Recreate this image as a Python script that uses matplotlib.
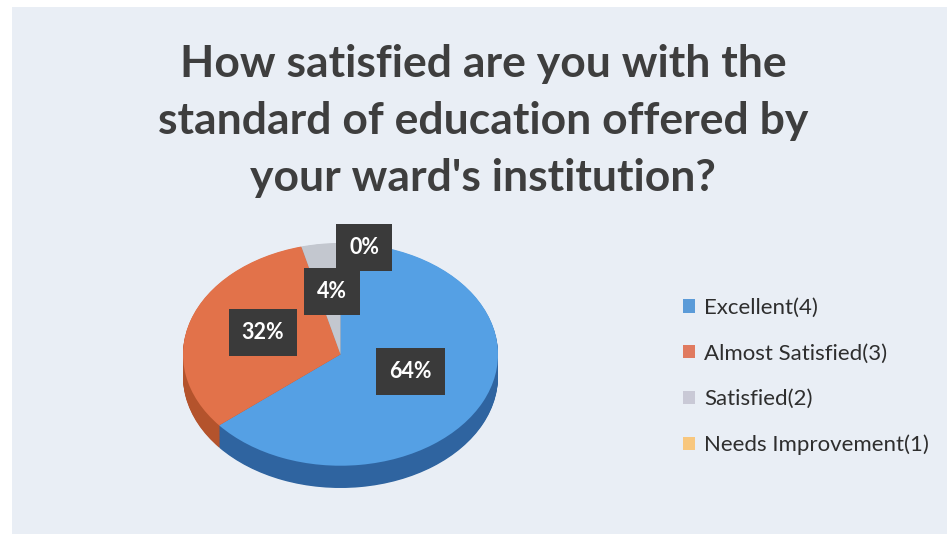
import matplotlib
matplotlib.use("Agg")
import matplotlib.pyplot as plt
from matplotlib.patches import Patch, Rectangle
import numpy as np

# data
categories = ["Excellent(4)", "Almost Satisfied(3)", "Satisfied(2)", "Needs Improvement(1)"]
values = [64, 32, 4, 0]
title = "How satisfied are you with the\nstandard of education offered by\nyour ward's institution?"

top_colors = ["#55a0e4", "#e2724a", "#c3c7cf", "#f6c47c"]
side_colors = ["#2f64a0", "#b4532c", "#8e929a", "#c9974f"]
legend_colors = ["#5b9bd8", "#e07a5f", "#c9c9d6", "#f8c77e"]

W, H = 947, 534
fig = plt.figure(figsize=(W / 100, H / 100), dpi=100, facecolor="white")

# slide background
fig.patches.append(Rectangle((12 / W, 0), 1, 1 - 7 / H, transform=fig.transFigure,
                             facecolor="#e9eef5", edgecolor="none", zorder=-10))

fig.text(483 / W, 1 - 121 / H, title, ha="center", va="center", fontsize=32,
         fontweight="bold", family="Lato", color="#3e3e3e", linespacing=1.5)

# pie axes: top ellipse 183..498 x, 243..466 y, depth ~22px
x0, x1, y0, y1 = 183, 498, 243, 488
ax = fig.add_axes([x0 / W, 1 - y1 / H, (x1 - x0) / W, (y1 - y0) / H])
depth = 0.2
for d in np.linspace(depth, 0.005, 30):
    ax.pie(values, colors=side_colors, startangle=90, counterclock=False,
           center=(0, -d), radius=1, wedgeprops=dict(linewidth=0))
wedges, _ = ax.pie(values, colors=top_colors, startangle=90, counterclock=False,
                   radius=1, wedgeprops=dict(linewidth=0))
ax.set_aspect("auto")
ax.set_xlim(-1, 1)
ax.set_ylim(-1 - depth, 1)
ax.axis("off")

# data labels
dist = [0.47, 0.53, 0.57, 0.97]
nudge = [6, -4, -2, -9]
for w, v, r, n in zip(wedges, values, dist, nudge):
    ang = np.deg2rad((w.theta1 + w.theta2) / 2 + n)
    ax.text(r * np.cos(ang), r * np.sin(ang), f"{v}%", ha="center", va="center",
            fontsize=15.5, fontweight="bold", family="Lato", color="white",
            bbox=dict(boxstyle="square,pad=0.6", facecolor="#3a3a3a", edgecolor="none"))

handles = [Patch(facecolor=c, edgecolor="none") for c in legend_colors]
fig.legend(handles, categories, loc="upper left", bbox_to_anchor=(663 / W, 1 - 278 / H),
           frameon=False, prop=dict(family="Lato", size=16), labelcolor="#2e2e2e",
           handlelength=0.55, handleheight=0.55, handletextpad=0.4, labelspacing=1.15)

fig.savefig("out.png", dpi=100, facecolor="white")
